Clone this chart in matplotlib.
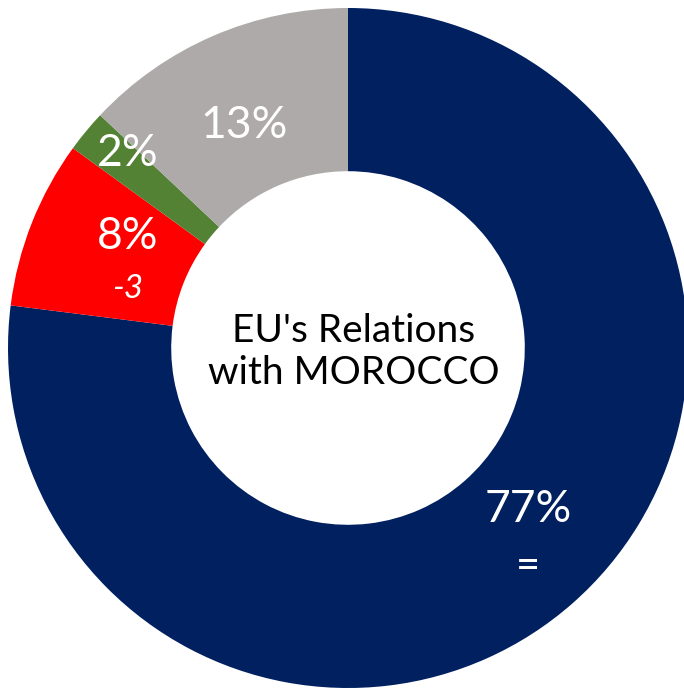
import matplotlib.pyplot as plt

# udzialy procentowe (od gory, zgodnie z ruchem wskazowek zegara)
segments = ["navy", "red", "green", "gray"]
shares = [77, 8, 2, 13]
pct_labels = ["77%", "8%", "2%", "13%"]
change_labels = ["=", "-3", "", ""]
center_title = "EU's Relations\nwith MOROCCO"

colors = ["#002060", "#FF0000", "#548235", "#AEAAAA"]

# polozenia etykiet (w pikselach obrazu 684x688)
pct_pos = [(528, 510), (128, 237), (128, 154), (244, 126)]
chg_pos = [(528, 566), (128, 289), None, None]

CX, CY, R = 348, 348, 340
W, H = 684, 688


def px(x, y):
    # zamiana pikseli na wspolrzedne danych
    return (x - CX) / R, (CY - y) / R


fig = plt.figure(figsize=(W / 100, H / 100), dpi=100)
ax = fig.add_axes([0, 0, 1, 1])
ax.pie(shares, colors=colors, startangle=90, counterclock=False,
       radius=1.0, wedgeprops=dict(width=0.48, linewidth=0))
ax.set_xlim(px(0, 0)[0], px(W, 0)[0])
ax.set_ylim(px(0, H)[1], px(0, 0)[1])
ax.set_aspect("equal")
ax.axis("off")

font = "Lato"
for lab, pos in zip(pct_labels, pct_pos):
    x, y = px(*pos)
    ax.text(x, y, lab, color="white", fontsize=32, family=font,
            ha="center", va="center")
for lab, pos in zip(change_labels, chg_pos):
    if pos is None or not lab:
        continue
    x, y = px(*pos)
    if lab == "=":
        ax.text(x, y, lab, color="white", fontsize=30, family=font,
                ha="center", va="center")
    else:
        ax.text(x, y, lab, color="white", fontsize=24, family=font,
                style="italic", ha="center", va="center")

x, y = px(354, 352)
ax.text(x, y, center_title, color="black", fontsize=28, family=font,
        ha="center", va="center", linespacing=1.2)

fig.savefig("out.png", dpi=100)
